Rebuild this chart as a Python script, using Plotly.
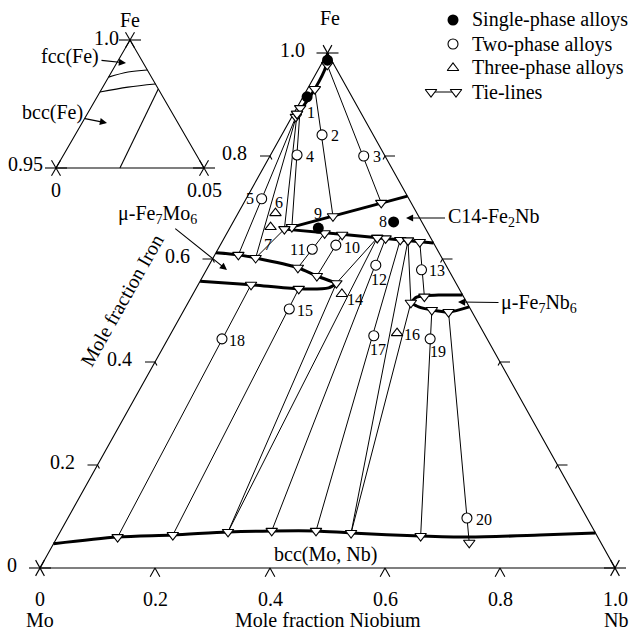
import math
import plotly.graph_objects as go

W, H = 631, 635
SERIF = "Liberation Serif"
BLACK = "black"

# ---------------------------------------------------------------------------
# Compositions are mole fractions (Nb, Fe); Mo = 1 - Nb - Fe
# ---------------------------------------------------------------------------
SINGLE_ID = ["", "1", "9", "8"]
SINGLE_NB = [0.007, 0.007, 0.154, 0.279]
SINGLE_FE = [0.986, 0.915, 0.660, 0.672]

TWO_ID = ["2", "3", "4", "5", "10", "11", "12", "13", "15", "17", "18", "19", "20"]
TWO_NB = [0.070, 0.163, 0.046, 0.027, 0.201, 0.164, 0.290, 0.374, 0.182, 0.355, 0.094, 0.456, 0.694]
TWO_FE = [0.841, 0.800, 0.802, 0.717, 0.627, 0.619, 0.588, 0.579, 0.503, 0.451, 0.445, 0.445, 0.097]

THREE_ID = ["6", "7", "14", "16"]
THREE_NB = [0.065, 0.070, 0.259, 0.393]
THREE_FE = [0.689, 0.662, 0.532, 0.456]

# tie-lines: (start, end) for Nb and Fe
TIE_NB = [(0.011, 0.239), (0.013, 0.168), (0.006, 0.107), (0.007, 0.041),
          (0.170, 0.157), (0.202, 0.198), (0.281, 0.367), (0.308, 0.444),
          (0.344, 0.405), (0.179, 0.199), (0.092, 0.105), (0.431, 0.631),
          (0.462, 0.722)]
TIE_FE = [(0.977, 0.709), (0.930, 0.683), (0.893, 0.662), (0.876, 0.608),
          (0.650, 0.583), (0.647, 0.567), (0.640, 0.072), (0.637, 0.072),
          (0.633, 0.527), (0.542, 0.064), (0.550, 0.060), (0.501, 0.062),
          (0.497, 0.049)]

# three-phase triangles
TRI_NB = [(0.006, 0.096, 0.074), (0.266, 0.239, 0.292), (0.322, 0.3875, 0.507)]
TRI_FE = [(0.882, 0.658, 0.602), (0.641, 0.553, 0.070), (0.636, 0.515, 0.068)]

# phase boundaries
BCCFE_NB = [0.000, 0.010, 0.013, 0.008]
BCCFE_FE = [1.000, 0.975, 0.930, 0.885]
C14_UP_NB = [0.096, 0.278]
C14_UP_FE = [0.658, 0.722]
C14_LO_NB = [0.096, 0.200, 0.300, 0.369]
C14_LO_FE = [0.658, 0.648, 0.638, 0.631]
MUMO_UP_NB = [0.000, 0.041, 0.074, 0.157, 0.198, 0.239]
MUMO_UP_FE = [0.612, 0.608, 0.602, 0.583, 0.567, 0.553]
MUMO_LO_NB = [0.000, 0.092, 0.179, 0.230, 0.239]
MUMO_LO_FE = [0.557, 0.550, 0.542, 0.544, 0.553]
MUNB_UP_NB = [0.3875, 0.392, 0.428, 0.470]
MUNB_UP_FE = [0.515, 0.526, 0.530, 0.530]
MUNB_LO_NB = [0.3875, 0.405, 0.431, 0.462, 0.493]
MUNB_LO_FE = [0.515, 0.507, 0.501, 0.497, 0.507]
BCCMONB_NB = [0.000, 0.105, 0.199, 0.292, 0.367, 0.444, 0.507, 0.631, 0.716, 0.837, 0.932]
BCCMONB_FE = [0.047, 0.060, 0.064, 0.070, 0.072, 0.072, 0.068, 0.062, 0.060, 0.064, 0.068]

# Fe-rich corner enlargement (Fe 0.95 - 1.0)
IN_FCC_UP_NB = [0.0, 0.0056, 0.0117]
IN_FCC_UP_FE = [0.9855, 0.9875, 0.9883]
IN_FCC_LO_NB = [0.0, 0.0085, 0.0172]
IN_FCC_LO_FE = [0.9797, 0.9816, 0.9828]
IN_BCC_NB = [0.0216, 0.0191]
IN_BCC_FE = [0.950, 0.9809]

FE_TICKS = [0.0, 0.2, 0.4, 0.6, 0.8, 1.0]
NB_TICKS = [0.0, 0.2, 0.4, 0.6, 0.8, 1.0]
TICK_TEXT = ["0", "0.2", "0.4", "0.6", "0.8", "1.0"]

LEGEND_NAMES = ["Single-phase alloys", "Two-phase alloys", "Three-phase alloys", "Tie-lines"]

# label offsets (px right, px down) for the alloy numbers
LABEL_SHIFT = {"1": (4, 16), "2": (13, 1), "3": (13, 0), "4": (13, 2), "5": (-12, 0),
               "6": (4, -11), "7": (-3, 17), "8": (-11, 0), "9": (0, -15),
               "10": (16, 2), "11": (-15, 0), "12": (3, 14), "13": (15, 1),
               "14": (13, 5), "15": (16, 2), "16": (15, 1), "17": (4, 14),
               "18": (15, 2), "19": (8, 13), "20": (17, 1)}

# ---------------------------------------------------------------------------
# geometry
# ---------------------------------------------------------------------------
MO_PX, NB_PX, BASE_PY, APEX_PY = 40, 615, 568, 53
SX = NB_PX - MO_PX
SY = BASE_PY - APEX_PY
X_RANGE = [-MO_PX / SX, (W - MO_PX) / SX]
Y_RANGE = [(BASE_PY - H) / SY, BASE_PY / SY]

IN_L, IN_R, IN_BASE, IN_APEX = 56, 204, 168, 40
ISX = IN_R - IN_L
ISY = IN_BASE - IN_APEX
IN_FE0, IN_SPAN = 0.95, 0.05
IN_DOM_X, IN_DOM_Y = [0.0, 0.5], [0.6, 1.0]
X2_RANGE = [(0 - IN_L) / ISX, (IN_DOM_X[1] * W - IN_L) / ISX]
Y2_RANGE = [(IN_BASE - (1 - IN_DOM_Y[0]) * H) / ISY, IN_BASE / ISY]

# key placement (pixels)
KEY_X, KEY_TEXT_X, KEY_Y0, KEY_DY = 453, 470, 20, 24
TXT = 20      # general text size
NUM = 16      # alloy number size


def tern(nb, fe, fe0=0.0, span=1.0):
    v = (fe - fe0) / span
    return nb / span + v / 2, v


def paper(px, py):
    return px / W, 1 - py / H


def dirs(sx, sy):
    n = math.hypot(0.5 * sx, sy)
    return (0.5 * sx / n, sy / n), (-0.5 * sx / n, sy / n)


class Segs:
    def __init__(self, sx, sy):
        self.x, self.y, self.sx, self.sy = [], [], sx, sy

    def off(self, p, dx, dy):
        return p[0] + dx / self.sx, p[1] + dy / self.sy

    def add(self, pts):
        for p in pts:
            self.x.append(p[0])
            self.y.append(p[1])
        self.x.append(None)
        self.y.append(None)

    def cross(self, c, dl, dr, lh=11, ld=9):
        self.add([self.off(c, -lh, 0), self.off(c, lh, 0)])
        self.add([self.off(c, -dl[0] * ld, -dl[1] * ld), self.off(c, dl[0] * ld, dl[1] * ld)])
        self.add([self.off(c, -dr[0] * ld, -dr[1] * ld), self.off(c, dr[0] * ld, dr[1] * ld)])


def curve(nbs, fes, fe0=0.0, span=1.0):
    pts = [tern(a, b, fe0, span) for a, b in zip(nbs, fes)]
    return [p[0] for p in pts], [p[1] for p in pts]


fig = go.Figure()

# ---- main triangle frame, ticks and corner crosses ----
DL, DR = dirs(SX, SY)
frame = Segs(SX, SY)
frame.add([tern(0, 0), tern(1, 0), tern(0, 1), tern(0, 0)])
for c in (tern(0, 0), tern(1, 0), tern(0, 1)):
    frame.cross(c, DL, DR)
for t in FE_TICKS[1:-1]:
    p = tern(0, t)
    frame.add([frame.off(p, -10, 0), p, frame.off(p, -DR[0] * 4, -DR[1] * 4)])
    p = tern(1 - t, t)
    frame.add([frame.off(p, 10, 0), p, frame.off(p, -DL[0] * 4, -DL[1] * 4)])
for t in NB_TICKS[1:-1]:
    p = tern(t, 0)
    frame.add([frame.off(p, -DL[0] * 10, -DL[1] * 10), p, frame.off(p, -DR[0] * 10, -DR[1] * 10)])
fig.add_trace(go.Scatter(x=frame.x, y=frame.y, mode="lines", showlegend=False,
                         line=dict(color=BLACK, width=1.1), hoverinfo="skip"))

# ---- phase boundaries ----
for nbs, fes in [(BCCFE_NB, BCCFE_FE), (C14_UP_NB, C14_UP_FE), (C14_LO_NB, C14_LO_FE),
                 (MUMO_UP_NB, MUMO_UP_FE), (MUMO_LO_NB, MUMO_LO_FE),
                 (MUNB_UP_NB, MUNB_UP_FE), (MUNB_LO_NB, MUNB_LO_FE),
                 (BCCMONB_NB, BCCMONB_FE)]:
    cx, cy = curve(nbs, fes)
    fig.add_trace(go.Scatter(x=cx, y=cy, mode="lines", showlegend=False, hoverinfo="skip",
                             line=dict(color=BLACK, width=3, shape="spline", smoothing=0.8)))

# ---- tie-lines and three-phase triangles ----
TIE_MARKER = dict(symbol="triangle-down", size=10, color="white",
                  line=dict(color=BLACK, width=1.1))
SINGLE_MARKER = dict(symbol="circle", size=11, color=BLACK)
TWO_MARKER = dict(symbol="circle", size=10, color="white", line=dict(color=BLACK, width=1.1))
THREE_MARKER = dict(symbol="triangle-up", size=10, color="white",
                    line=dict(color=BLACK, width=1.1))

ties = Segs(SX, SY)
for nb, fe in zip(TIE_NB, TIE_FE):
    ties.add([tern(nb[0], fe[0]), tern(nb[1], fe[1])])
for nb, fe in zip(TRI_NB, TRI_FE):
    pts = [tern(a, b) for a, b in zip(nb, fe)]
    ties.add(pts + [pts[0]])
fig.add_trace(go.Scatter(x=ties.x, y=ties.y, mode="lines+markers", name=LEGEND_NAMES[3],
                         showlegend=False, hoverinfo="skip",
                         line=dict(color=BLACK, width=1), marker=TIE_MARKER))

# ---- alloys ----
for nbs, fes, name, mk in [(SINGLE_NB, SINGLE_FE, LEGEND_NAMES[0], SINGLE_MARKER),
                           (TWO_NB, TWO_FE, LEGEND_NAMES[1], TWO_MARKER),
                           (THREE_NB, THREE_FE, LEGEND_NAMES[2], THREE_MARKER)]:
    cx, cy = curve(nbs, fes)
    fig.add_trace(go.Scatter(x=cx, y=cy, mode="markers", name=name, showlegend=False,
                             hoverinfo="skip", marker=mk))

# ---- Fe-rich corner enlargement ----
IDL, IDR = dirs(ISX, ISY)
inset = Segs(ISX, ISY)
inset.add([(0, 0), (1, 0), (0.5, 1), (0, 0)])
for c in ((0, 0), (1, 0), (0.5, 1)):
    inset.cross(c, IDL, IDR)
fig.add_trace(go.Scatter(x=inset.x, y=inset.y, xaxis="x2", yaxis="y2", mode="lines",
                         showlegend=False, hoverinfo="skip",
                         line=dict(color=BLACK, width=1.1)))
for nbs, fes in [(IN_FCC_UP_NB, IN_FCC_UP_FE), (IN_FCC_LO_NB, IN_FCC_LO_FE),
                 (IN_BCC_NB, IN_BCC_FE)]:
    cx, cy = curve(nbs, fes, IN_FE0, IN_SPAN)
    fig.add_trace(go.Scatter(x=cx, y=cy, xaxis="x2", yaxis="y2", mode="lines",
                             showlegend=False, hoverinfo="skip",
                             line=dict(color=BLACK, width=1.1, shape="spline")))

# ---- key (drawn on a pixel-space overlay axis) ----
key_y = [KEY_Y0 + i * KEY_DY for i in range(4)]
for mk, ky in [(SINGLE_MARKER, key_y[0]), (TWO_MARKER, key_y[1]), (THREE_MARKER, key_y[2])]:
    fig.add_trace(go.Scatter(x=[KEY_X], y=[ky], xaxis="x3", yaxis="y3", mode="markers",
                             showlegend=False, hoverinfo="skip", marker=mk))
fig.add_trace(go.Scatter(x=[KEY_X - 22, KEY_X + 3], y=[key_y[3], key_y[3]], xaxis="x3",
                         yaxis="y3", mode="lines+markers", showlegend=False, hoverinfo="skip",
                         line=dict(color=BLACK, width=1), marker=TIE_MARKER))

# ---------------------------------------------------------------------------
# text
# ---------------------------------------------------------------------------
ann = []


def text_at(txt, x, y, xref="x", yref="y", dx=0, dy=0, size=TXT, xanchor="center", **kw):
    ann.append(dict(text=txt, x=x, y=y, xref=xref, yref=yref, xshift=dx, yshift=-dy,
                    xanchor=xanchor, yanchor="middle", showarrow=False,
                    font=dict(family=SERIF, size=size, color=BLACK), **kw))


def text_px(txt, px, py, size=TXT, **kw):
    x, y = paper(px, py)
    text_at(txt, x, y, "paper", "paper", size=size, **kw)


def callout(txt, label_center, head, size=TXT):
    """Phase label with an arrow drawn from the label box towards `head` (pixels)."""
    x, y = paper(*head)
    ann.append(dict(text=txt, x=x, y=y, xref="paper", yref="paper",
                    ax=label_center[0] - head[0], ay=label_center[1] - head[1],
                    axref="pixel", ayref="pixel", showarrow=True,
                    arrowhead=2, arrowsize=1.3, arrowwidth=1.1, arrowcolor=BLACK,
                    standoff=0, startstandoff=1,
                    font=dict(family=SERIF, size=size, color=BLACK)))


for ids, nbs, fes in [(SINGLE_ID, SINGLE_NB, SINGLE_FE), (TWO_ID, TWO_NB, TWO_FE),
                      (THREE_ID, THREE_NB, THREE_FE)]:
    for i, nb, fe in zip(ids, nbs, fes):
        if not i:
            continue
        x, y = tern(nb, fe)
        dx, dy = LABEL_SHIFT[i]
        text_at(i, x, y, dx=dx, dy=dy, size=NUM)

for t, s in zip(FE_TICKS, TICK_TEXT):
    x, y = tern(0, t)
    text_at(s, x, y, dx=-21, dy=-3, xanchor="right")
for t, s in zip(NB_TICKS, TICK_TEXT):
    x, y = tern(t, 0)
    text_at(s, x, y, dy=31)

for name, ky in zip(LEGEND_NAMES, key_y):
    text_px(name, KEY_TEXT_X, ky, xanchor="left")

text_px("Fe", 330, 18)
text_px("Mo", 40, 620)
text_px("Nb", 616, 620)
text_px("Mole fraction Niobium", 328, 620)
text_px("Mole fraction Iron", 122, 300, textangle=-60.6)
text_px("bcc(Mo, Nb)", 325, 554)
callout("C14-Fe<sub>2</sub>Nb", (493, 218), (406, 218))
callout("μ-Fe<sub>7</sub>Nb<sub>6</sub>", (539, 303), (458, 302))
callout("μ-Fe<sub>7</sub>Mo<sub>6</sub>", (157, 214), (227, 270))

# enlargement labels
text_px("Fe", 130, 20)
text_px("1.0", 106, 38)
text_px("0.95", 25, 164)
text_px("0", 56, 190)
text_px("0.05", 204, 190)
callout("fcc(Fe)", (70, 57), (126, 63))
callout("bcc(Fe)", (52, 112), (107, 123))

fig.update_layout(
    width=W, height=H,
    margin=dict(l=0, r=0, t=0, b=0),
    paper_bgcolor="white",
    plot_bgcolor="rgba(0,0,0,0)",
    showlegend=False,
    xaxis=dict(range=X_RANGE, visible=False, fixedrange=True),
    yaxis=dict(range=Y_RANGE, visible=False, fixedrange=True),
    xaxis2=dict(domain=IN_DOM_X, range=X2_RANGE, anchor="y2", visible=False, fixedrange=True),
    yaxis2=dict(domain=IN_DOM_Y, range=Y2_RANGE, anchor="x2", visible=False, fixedrange=True),
    xaxis3=dict(domain=[0, 1], range=[0, W], anchor="y3", visible=False, fixedrange=True),
    yaxis3=dict(domain=[0, 1], range=[H, 0], anchor="x3", visible=False, fixedrange=True),
    annotations=ann,
    font=dict(family=SERIF, color=BLACK),
)

fig.write_html("out.html")
